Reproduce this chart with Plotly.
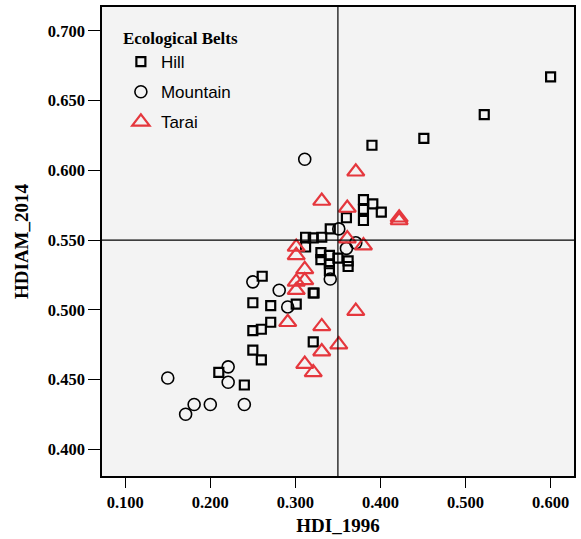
import plotly.graph_objects as go

# Hill (squares)
hill_x = [0.600, 0.522, 0.451, 0.390, 0.380, 0.380, 0.391, 0.401, 0.380, 0.360,
          0.341, 0.331, 0.321, 0.312, 0.312, 0.330, 0.330, 0.340, 0.340, 0.350,
          0.362, 0.362, 0.340, 0.322, 0.261, 0.250, 0.271, 0.301, 0.321, 0.271,
          0.260, 0.250, 0.250, 0.260, 0.321, 0.240, 0.210]
hill_y = [0.667, 0.640, 0.623, 0.618, 0.579, 0.572, 0.576, 0.570, 0.564, 0.566,
          0.558, 0.552, 0.5515, 0.552, 0.545, 0.541, 0.536, 0.539, 0.533, 0.537,
          0.535, 0.531, 0.528, 0.512, 0.524, 0.505, 0.503, 0.504, 0.512, 0.491,
          0.486, 0.485, 0.471, 0.464, 0.477, 0.446, 0.455]

# Mountain (circles)
mtn_x = [0.311, 0.351, 0.371, 0.360, 0.341, 0.250, 0.281, 0.291, 0.221, 0.221,
         0.150, 0.181, 0.171, 0.200, 0.240]
mtn_y = [0.608, 0.558, 0.548, 0.544, 0.522, 0.520, 0.514, 0.502, 0.459, 0.448,
         0.451, 0.432, 0.425, 0.432, 0.432]

# Tarai (triangles)
tarai_x = [0.371, 0.331, 0.361, 0.422, 0.422, 0.361, 0.380, 0.301, 0.301, 0.311,
           0.311, 0.301, 0.301, 0.291, 0.331, 0.351, 0.331, 0.311, 0.321, 0.371]
tarai_y = [0.599, 0.578, 0.573, 0.566, 0.564, 0.551, 0.546, 0.545, 0.539, 0.529,
           0.521, 0.520, 0.514, 0.491, 0.488, 0.475, 0.470, 0.461, 0.455, 0.499]

x_ticks = [0.1, 0.2, 0.3, 0.4, 0.5, 0.6]
y_ticks = [0.40, 0.45, 0.50, 0.55, 0.60, 0.65, 0.70]
ref_x = 0.35
ref_y = 0.55

fig = go.Figure()
fig.add_trace(go.Scatter(x=hill_x, y=hill_y, mode="markers", name="Hill", legendgroup="h",
                         marker=dict(symbol="square-open", size=9, color="black",
                                     line=dict(width=2.2, color="black"))))
fig.add_trace(go.Scatter(x=mtn_x, y=mtn_y, mode="markers", name="Mountain", legendgroup="m",
                         marker=dict(symbol="circle-open", size=12, color="black",
                                     line=dict(width=1.6, color="black"))))
fig.add_trace(go.Scatter(x=tarai_x, y=tarai_y, mode="markers", name="Tarai", legendgroup="t",
                         marker=dict(symbol="triangle-up-open", size=15, color="#e5373d",
                                     line=dict(width=2.2, color="#e5373d"))))

fig.add_shape(type="line", x0=ref_x, x1=ref_x, y0=0, y1=1, xref="x", yref="paper",
              line=dict(color="black", width=1.2))
fig.add_shape(type="line", x0=0, x1=1, y0=ref_y, y1=ref_y, xref="paper", yref="y",
              line=dict(color="black", width=1.2))

tickfont = dict(family="Liberation Serif", size=16.5, color="black")
fig.update_layout(
    width=581, height=539,
    margin=dict(l=102, r=7, t=5, b=63),
    paper_bgcolor="white",
    plot_bgcolor="#f3f3f3",
    showlegend=True,
    legend=dict(
        title=dict(text="<b>Ecological Belts</b>",
                   font=dict(family="Liberation Serif", size=17, color="black")),
        x=0.04, y=0.968, xanchor="left", yanchor="top",
        bgcolor="rgba(0,0,0,0)",
        font=dict(family="Liberation Sans", size=17, color="black"),
        itemsizing="trace", tracegroupgap=5,
    ),
    xaxis=dict(
        range=[0.0727, 0.6275], tickvals=x_ticks,
        ticktext=["<b>%.3f</b>" % v for v in x_ticks],
        tickfont=tickfont, showgrid=False, zeroline=False,
        showline=True, mirror=True, linecolor="black", linewidth=1.5,
        ticks="outside", ticklen=10, tickcolor="black", tickwidth=1.2,
        title=dict(text="<b>HDI_1996</b>",
                   font=dict(family="Liberation Serif", size=19, color="black"),
                   standoff=8),
    ),
    yaxis=dict(
        range=[0.3807, 0.7172], tickvals=y_ticks,
        ticktext=["<b>%.3f</b>" % v for v in y_ticks],
        tickfont=tickfont, showgrid=False, zeroline=False,
        showline=True, mirror=True, linecolor="black", linewidth=1.5,
        ticks="outside", ticklen=12, tickcolor="black", tickwidth=1.2,
        title=dict(text="<b>HDIAM_2014</b>",
                   font=dict(family="Liberation Serif", size=19, color="black"),
                   standoff=14),
    ),
)

fig.write_html("out.html")
